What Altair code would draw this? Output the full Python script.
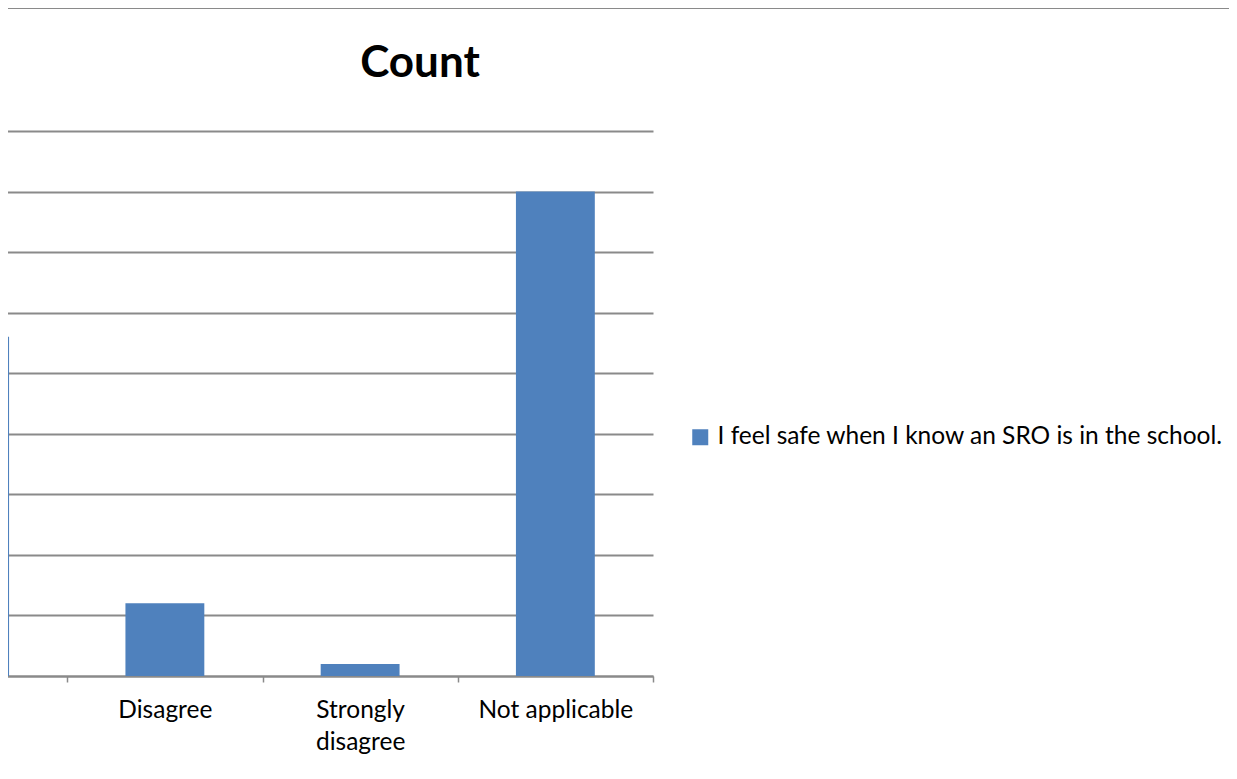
import altair as alt
import pandas as pd

# Data (first category is cropped out of the reference view)
categories = ["Agree", "Disagree", "Strongly disagree", "Not applicable"]
counts = [28, 6, 1, 40]
series_name = "I feel safe when I know an SRO is in the school."
tick_values = [0, 5, 10, 15, 20, 25, 30, 35, 40, 45]
chart_title = "Count"

FONT = "Lato"
BLUE = "#4F81BD"
GRID = "#8A8A8A"

bars_df = pd.DataFrame({"category": categories, "count": counts, "series": series_name})

bars = alt.Chart(bars_df).mark_bar(width=alt.RelativeBandSize(0.404), color=BLUE).encode(
    x=alt.X(
        "category:N",
        sort=categories,
        scale=alt.Scale(domain=categories, range=[-136, 645], paddingInner=0, paddingOuter=0),
        axis=alt.Axis(
            title=None,
            tickBand="extent",
            domainColor=GRID,
            domainWidth=1.8,
            tickColor=GRID,
            tickWidth=1.5,
            tickSize=6,
            labelAngle=0,
            labelFont=FONT,
            labelFontSize=24.5,
            labelColor="#000000",
            labelPadding=16,
            labelLineHeight=32,
            labelBaseline="top",
            labelExpr="datum.label == 'Agree' ? '' : (length(datum.label) > 15 ? split(datum.label, ' ') : datum.label)",
            grid=False,
        ),
    ),
    y=alt.Y(
        "count:Q",
        scale=alt.Scale(domain=[0, 55.15], nice=False, zero=True),
        axis=alt.Axis(
            title=None,
            values=tick_values,
            labels=False,
            ticks=False,
            domain=False,
            grid=True,
            gridColor=GRID,
            gridWidth=1.8,
        ),
    ),
    color=alt.Color(
        "series:N",
        scale=alt.Scale(domain=[series_name], range=[BLUE]),
        legend=alt.Legend(
            title=None,
            orient="none",
            legendX=680,
            legendY=417,
            symbolType="square",
            symbolSize=256,
            symbolStrokeWidth=0,
            labelFont=FONT,
            labelFontSize=24.5,
            labelColor="#000000",
            labelLimit=700,
            labelOffset=5,
        ),
    ),
)

border = alt.Chart(alt.Data(values=[{"k": 1}])).mark_rule(color=GRID, strokeWidth=1.8).encode(
    x=alt.value(0), x2=alt.value(1221), y=alt.value(0)
)

title = alt.Chart(alt.Data(values=[{"t": chart_title}])).mark_text(
    font=FONT, fontSize=44, fontWeight="bold", color="#000000", align="center", baseline="middle"
).encode(text="t:N", x=alt.value(412), y=alt.value(56))

chart = alt.layer(border, bars, title).properties(
    width=645,
    height=668,
    autosize=alt.AutoSizeParams(type="none"),
    padding={"left": 0, "top": 0, "right": 576, "bottom": 95},
).configure(background="white").configure_view(stroke=None)

chart.save("out.html", embed_options={"renderer": "svg", "actions": False})
